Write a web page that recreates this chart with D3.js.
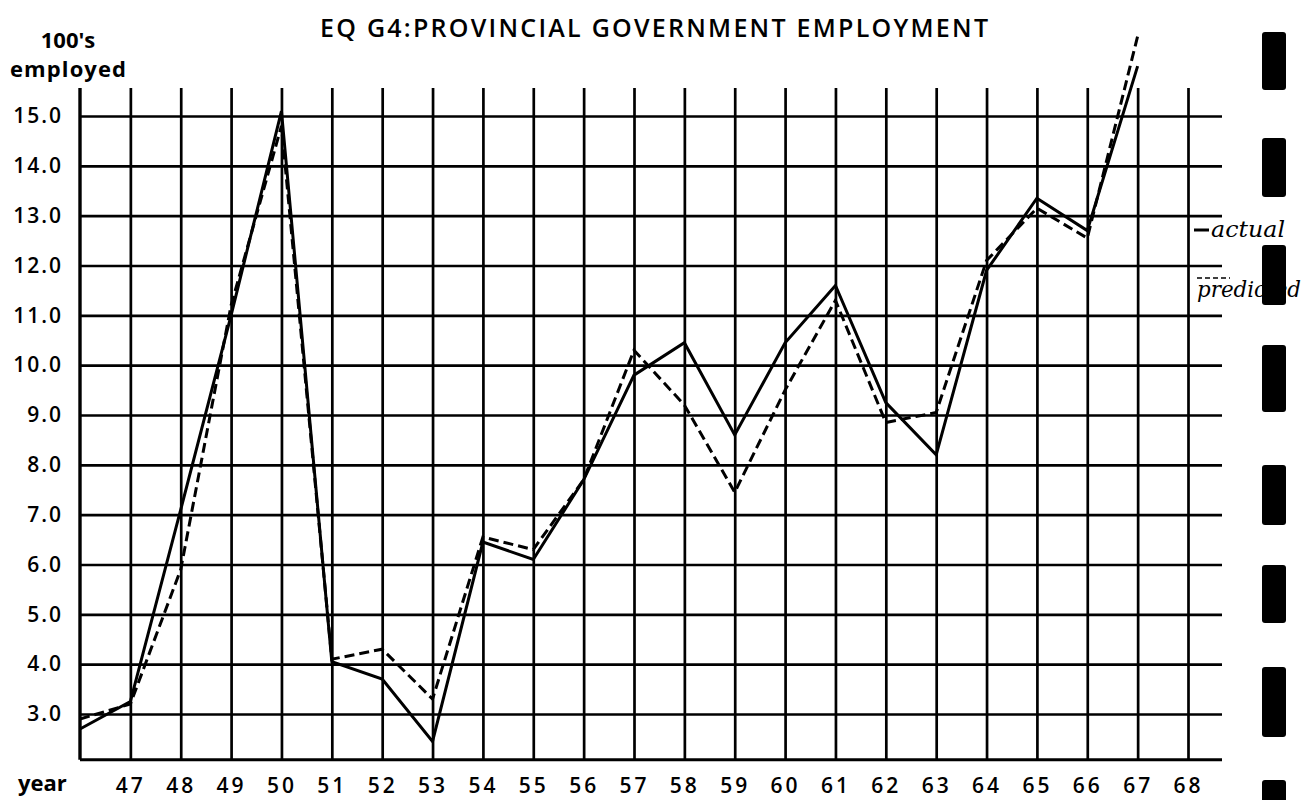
<!DOCTYPE html>
<html>
<head>
<meta charset="utf-8">
<script src="https://cdn.jsdelivr.net/npm/d3@7"></script>
<style>
  body { margin: 0; background: #fff; }
  svg { display: block; }
  .grid .tick line { stroke: #000; stroke-width: 2.7; }
  .grid .domain { display: none; }
  .grid .tick text { font-family: "Open Sans", sans-serif; font-weight: 600; font-size: 21px; fill: #000; }
</style>
</head>
<body>
<div id="chart"></div>
<script>
// EQ G4 chart (100's employed)

// Data
var years = [46, 47, 48, 49, 50, 51, 52, 53, 54, 55, 56, 57, 58, 59, 60, 61, 62, 63, 64, 65, 66, 67];
var actual = [2.7, 3.25, 7.1, 11.0, 15.1, 4.05, 3.7, 2.45, 6.45, 6.1, 7.7, 9.8, 10.45, 8.6, 10.45, 11.6, 9.25, 8.2, 11.9, 13.35, 12.7, 16.0];
var predicted = [2.9, 3.2, 5.9, 11.2, 14.8, 4.1, 4.3, 3.3, 6.55, 6.3, 7.7, 10.3, 9.2, 7.45, 9.5, 11.3, 8.85, 9.05, 12.1, 13.15, 12.55, 16.6];

// Ticks / labels
var yTicks = [3, 4, 5, 6, 7, 8, 9, 10, 11, 12, 13, 14, 15];
var xTickYears = [47, 48, 49, 50, 51, 52, 53, 54, 55, 56, 57, 58, 59, 60, 61, 62, 63, 64, 65, 66, 67, 68];
var chartTitle = "EQ G4:PROVINCIAL GOVERNMENT EMPLOYMENT";
var yUnitLines = ["100's", "employed"];
var xAxisName = "year";
var legendNames = ["actual", "predicted"];

var width = 1310;
var height = 800;

// plot frame
var plotLeft = 80;
var plotRight = 1222;
var yMin = 2.08;      // value at bottom axis line
var yGridTop = 15.56; // where the vertical rules stop

var x = d3.scaleLinear()
  .domain([46, 68])
  .range([plotLeft, 1188]);

var y = d3.scaleLinear()
  .domain([3, 15])
  .range([714, 116]);

var svg = d3.select("#chart")
  .append("svg")
  .attr("width", width)
  .attr("height", height);

// Title
svg.append("text")
  .attr("x", 654)
  .attr("y", 37)
  .attr("text-anchor", "middle")
  .attr("textLength", 668)
  .attr("lengthAdjust", "spacing")
  .style("font-family", "Open Sans, sans-serif")
  .style("font-weight", 600)
  .style("font-size", "25px")
  .text(chartTitle);

// unit label top left
svg.append("text")
  .attr("x", 68)
  .attr("y", 48)
  .attr("text-anchor", "middle")
  .style("font-family", "Open Sans, sans-serif")
  .style("font-weight", 700)
  .style("font-size", "22px")
  .text(yUnitLines[0]);

svg.append("text")
  .attr("x", 10)
  .attr("y", 77)
  .attr("textLength", 116)
  .attr("lengthAdjust", "spacing")
  .style("font-family", "Open Sans, sans-serif")
  .style("font-weight", 700)
  .style("font-size", "22px")
  .text(yUnitLines[1]);

// horizontal rules + y labels
var yAxis = d3.axisLeft(y)
  .tickValues(yTicks)
  .tickSize(-(plotRight - plotLeft))
  .tickPadding(17)
  .tickFormat(d3.format(".1f"));

svg.append("g")
  .attr("class", "grid y")
  .attr("transform", "translate(" + plotLeft + ",0)")
  .call(yAxis)
  .selectAll(".tick text")
  .style("letter-spacing", "2px");

// vertical rules + year labels
var xAxis = d3.axisBottom(x)
  .tickValues(xTickYears)
  .tickSize(-(y(yMin) - y(yGridTop)))
  .tickPadding(18)
  .tickFormat(function(d) { return d; });

svg.append("g")
  .attr("class", "grid x")
  .attr("transform", "translate(0," + y(yMin) + ")")
  .call(xAxis)
  .selectAll(".tick text")
  .style("letter-spacing", "3px");

// frame lines (left + bottom)
svg.append("line")
  .attr("x1", plotLeft).attr("x2", plotLeft)
  .attr("y1", y(yGridTop)).attr("y2", y(yMin))
  .attr("stroke", "#000")
  .attr("stroke-width", 3.4);

svg.append("line")
  .attr("x1", plotLeft).attr("x2", plotRight)
  .attr("y1", y(yMin)).attr("y2", y(yMin))
  .attr("stroke", "#000")
  .attr("stroke-width", 3);

svg.append("text")
  .attr("x", 18)
  .attr("y", 791)
  .style("font-family", "Open Sans, sans-serif")
  .style("font-weight", 700)
  .style("font-size", "22px")
  .text(xAxisName);

// data lines
var line = d3.line()
  .x(function(d, i) { return x(years[i]); })
  .y(function(d) { return y(d); });

svg.append("path")
  .datum(predicted)
  .attr("d", line)
  .attr("fill", "none")
  .attr("stroke", "#000")
  .attr("stroke-width", 3)
  .attr("stroke-dasharray", "10,5");

svg.append("path")
  .datum(actual)
  .attr("d", line)
  .attr("fill", "none")
  .attr("stroke", "#000")
  .attr("stroke-width", 3);

// legend (hand written beside the grid)
var legend = svg.append("g")
  .style("font-family", "DejaVu Serif, serif")
  .style("font-style", "italic")
  .style("font-size", "22px");

legend.append("line")
  .attr("x1", 1194).attr("x2", 1209)
  .attr("y1", 230).attr("y2", 230)
  .attr("stroke", "#000")
  .attr("stroke-width", 3);

legend.append("text")
  .attr("x", 1211)
  .attr("y", 237)
  .attr("textLength", 74)
  .attr("lengthAdjust", "spacingAndGlyphs")
  .text(legendNames[0]);

legend.append("line")
  .attr("x1", 1197).attr("x2", 1230)
  .attr("y1", 278).attr("y2", 278)
  .attr("stroke", "#000")
  .attr("stroke-width", 1.5)
  .attr("stroke-dasharray", "5,3");

legend.append("text")
  .attr("x", 1197)
  .attr("y", 297)
  .attr("textLength", 104)
  .attr("lengthAdjust", "spacingAndGlyphs")
  .text(legendNames[1]);

// film sprocket holes along the right edge of the scan
var holes = [[32, 90], [138, 197], [245, 305], [345, 412], [465, 525], [565, 623], [667, 737], [780, 806]];
svg.append("g")
  .selectAll("rect")
  .data(holes)
  .enter()
  .append("rect")
  .attr("x", 1262)
  .attr("y", function(d) { return d[0]; })
  .attr("width", 24)
  .attr("height", function(d) { return d[1] - d[0]; })
  .attr("rx", 3)
  .attr("fill", "#000");
</script>
</body>
</html>
